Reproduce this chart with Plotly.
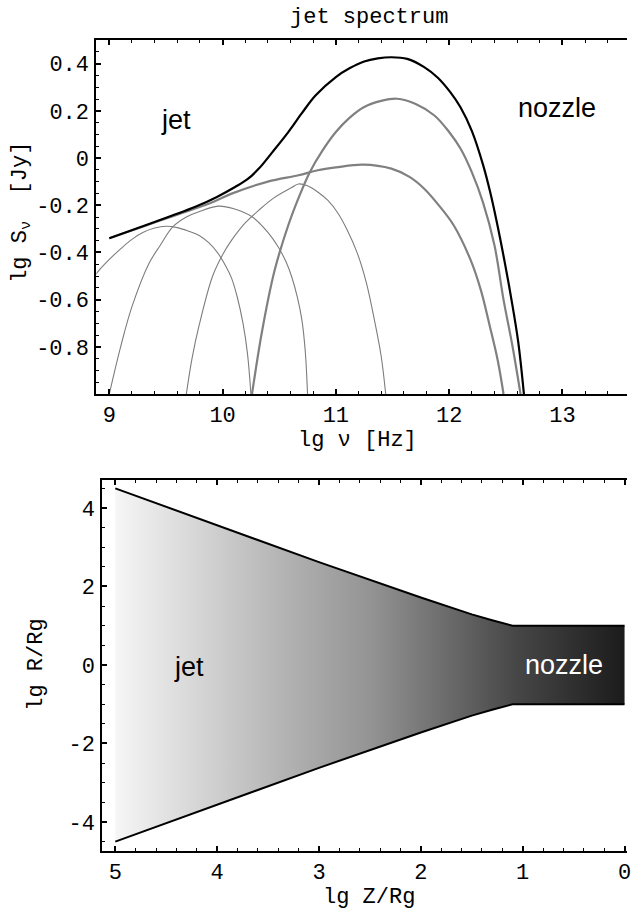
import plotly.graph_objects as go

W, H = 631, 911
MONO = "Courier New, Liberation Mono, monospace"
SANS = "Liberation Sans, Arial, Helvetica, sans-serif"

# ---------------- spectrum (lg nu [Hz] vs lg S_nu [Jy]) ----------------
TOTAL_NU = [9.0, 9.32, 9.55, 9.76, 9.95, 10.11, 10.22, 10.32, 10.44, 10.58, 10.70, 10.82,
            11.0, 11.12, 11.25, 11.37, 11.49, 11.63, 11.78, 11.9, 12.01, 12.1, 12.2, 12.3,
            12.36, 12.42, 12.49, 12.55, 12.61, 12.66]
TOTAL_S = [-0.34, -0.285, -0.245, -0.207, -0.165, -0.123, -0.09, -0.045, 0.025, 0.11, 0.19, 0.265,
           0.343, 0.38, 0.409, 0.422, 0.427, 0.42, 0.385, 0.34, 0.279, 0.215, 0.115, -0.03,
           -0.14, -0.27, -0.44, -0.6, -0.78, -1.0]

NOZZLE_NU = [10.26, 10.35, 10.46, 10.58, 10.67, 10.77, 10.88, 11.0, 11.12, 11.25, 11.4, 11.54,
             11.7, 11.87, 12.0, 12.10, 12.2, 12.30, 12.40, 12.48, 12.56, 12.63]
NOZZLE_S = [-1.0, -0.73, -0.475, -0.285, -0.17, -0.06, 0.03, 0.11, 0.17, 0.216, 0.242, 0.251,
            0.23, 0.18, 0.11, 0.04, -0.06, -0.19, -0.37, -0.6, -0.8, -1.0]

JET_NU = [9.0, 9.3, 9.6, 9.9, 10.08, 10.4, 10.67, 10.84, 11.0, 11.24, 11.49, 11.65, 11.78,
          11.92, 12.04, 12.19, 12.28, 12.36, 12.43, 12.48]
JET_S = [-0.34, -0.29, -0.24, -0.19, -0.151, -0.10, -0.073, -0.052, -0.04, -0.028, -0.045,
         -0.08, -0.13, -0.207, -0.285, -0.433, -0.56, -0.715, -0.86, -1.0]

C1_NU = [8.85, 8.886, 9.0, 9.1, 9.2, 9.3, 9.4, 9.5, 9.6, 9.7, 9.79, 9.88, 9.96, 10.03, 10.08,
         10.13, 10.18, 10.22, 10.25]
C1_S = [-0.52, -0.49, -0.43, -0.385, -0.345, -0.315, -0.297, -0.289, -0.295, -0.31, -0.327,
        -0.36, -0.404, -0.46, -0.51, -0.59, -0.7, -0.83, -1.0]

C2_NU = [9.0, 9.1, 9.2, 9.35, 9.45, 9.56, 9.68, 9.79, 9.96, 10.1, 10.26, 10.4, 10.49, 10.56,
         10.61, 10.66, 10.70, 10.73, 10.75]
C2_S = [-1.0, -0.8, -0.63, -0.447, -0.37, -0.292, -0.25, -0.228, -0.204, -0.215, -0.249,
        -0.315, -0.376, -0.44, -0.503, -0.59, -0.686, -0.82, -1.0]

C3_NU = [9.68, 9.73, 9.79, 9.91, 10.0, 10.08, 10.2, 10.32, 10.45, 10.61, 10.67, 10.75, 10.84,
         10.93, 11.02, 11.1, 11.19, 11.27, 11.34, 11.40, 11.44]
C3_S = [-1.0, -0.85, -0.715, -0.503, -0.41, -0.348, -0.275, -0.221, -0.17, -0.125, -0.11,
        -0.118, -0.144, -0.18, -0.235, -0.305, -0.404, -0.53, -0.686, -0.84, -1.0]

SPEC_XTICKS = [9, 10, 11, 12, 13]
SPEC_XLABELS = ["9", "10", "11", "12", "13"]
SPEC_YTICKS = [-0.8, -0.6, -0.4, -0.2, 0, 0.2, 0.4]
SPEC_YLABELS = ["-0.8", "-0.6", "-0.4", "-0.2", "0", "0.2", "0.4"]

# ---------------- jet geometry (lg Z/Rg vs lg R/Rg) ----------------
NOZ_Z = [5, 4, 3, 2, 1.5, 1.3, 1.1, 0]
NOZ_R_UPPER = [4.5, 3.56, 2.62, 1.72, 1.29, 1.14, 1.0, 1.0]
NOZ_R_LOWER = [-4.5, -3.56, -2.62, -1.72, -1.29, -1.14, -1.0, -1.0]

GEO_XTICKS = [5, 4, 3, 2, 1, 0]
GEO_XLABELS = ["5", "4", "3", "2", "1", "0"]
GEO_YTICKS = [-4, -2, 0, 2, 4]
GEO_YLABELS = ["-4", "-2", "0", "2", "4"]


def px(xp):
    return xp / W


def py(yp):
    return 1 - yp / H


fig = go.Figure()

thin = dict(color="#7d7d7d", width=1.1, shape="spline", smoothing=1.0)
mid = dict(color="#808080", width=2.2, shape="spline", smoothing=1.0)
for nu, s in [(C1_NU, C1_S), (C2_NU, C2_S), (C3_NU, C3_S)]:
    fig.add_trace(go.Scatter(x=nu, y=s, mode="lines", line=thin,
                             xaxis="x", yaxis="y", hoverinfo="skip", showlegend=False))
for nu, s in [(JET_NU, JET_S), (NOZZLE_NU, NOZZLE_S)]:
    fig.add_trace(go.Scatter(x=nu, y=s, mode="lines", line=mid,
                             xaxis="x", yaxis="y", hoverinfo="skip", showlegend=False))
fig.add_trace(go.Scatter(x=TOTAL_NU, y=TOTAL_S, mode="lines",
                         line=dict(color="black", width=2.2, shape="spline", smoothing=1.0),
                         xaxis="x", yaxis="y", hoverinfo="skip", showlegend=False))

# jet body with a left-to-right grey gradient
fig.add_trace(go.Scatter(
    x=NOZ_Z + NOZ_Z[::-1], y=NOZ_R_UPPER + NOZ_R_LOWER[::-1],
    mode="lines", fill="toself", line=dict(width=0, color="rgba(0,0,0,0)"),
    fillgradient=dict(type="horizontal", start=5, stop=0,
                      colorscale=[[0, "#f6f6f6"], [0.36, "#adadad"], [0.5, "#939393"],
                                  [0.78, "#474747"], [1, "#1a1a1a"]]),
    xaxis="x2", yaxis="y2", hoverinfo="skip", showlegend=False))
for r in (NOZ_R_UPPER, NOZ_R_LOWER):
    fig.add_trace(go.Scatter(x=NOZ_Z, y=r, mode="lines", line=dict(color="black", width=2),
                             xaxis="x2", yaxis="y2", hoverinfo="skip", showlegend=False))

# empty traces so the mirrored top axes are drawn
fig.add_trace(go.Scatter(x=[None], y=[None], xaxis="x3", yaxis="y", showlegend=False, hoverinfo="skip"))
fig.add_trace(go.Scatter(x=[None], y=[None], xaxis="x4", yaxis="y2", showlegend=False, hoverinfo="skip"))

tickfont = dict(family=MONO, size=22, color="black")
common = dict(showline=True, linecolor="black", linewidth=2, ticks="inside", ticklen=5,
              tickwidth=1.5, tickcolor="black", showgrid=False, zeroline=False,
              tickfont=tickfont, tickmode="array", ticklabeloverflow="allow")


def minor(step):
    return dict(tickmode="linear", tick0=0, dtick=step, ticks="inside", ticklen=3,
                tickcolor="black", tickwidth=1.2, showgrid=False)


SPEC_XR = [8.886, 13.570]
GEO_XR = [5.127, -0.024]

fig.update_layout(
    width=W, height=H, autosize=False,
    margin=dict(l=0, r=0, t=0, b=0),
    paper_bgcolor="white", plot_bgcolor="white",
    xaxis=dict(domain=[px(97), 1], range=SPEC_XR, anchor="y",
               tickvals=SPEC_XTICKS, ticktext=SPEC_XLABELS, minor=minor(0.2), **common),
    xaxis3=dict(domain=[px(97), 1], range=SPEC_XR, anchor="y", overlaying="x", side="top",
                showticklabels=False, tickvals=SPEC_XTICKS, minor=minor(0.2), **common),
    yaxis=dict(domain=[py(394), py(40)], range=[-1.0, 0.5], anchor="x",
               tickvals=SPEC_YTICKS, ticktext=SPEC_YLABELS, ticklabelstandoff=1,
               minor=minor(0.05), **common),
    xaxis2=dict(domain=[px(103), 1], range=GEO_XR, anchor="y2",
                tickvals=GEO_XTICKS, ticktext=GEO_XLABELS, minor=minor(0.2), **common),
    xaxis4=dict(domain=[px(103), 1], range=GEO_XR, anchor="y2", overlaying="x2", side="top",
                showticklabels=False, tickvals=GEO_XTICKS, minor=minor(0.2), **common),
    yaxis2=dict(domain=[py(851), py(480)], range=[-4.739, 4.713], anchor="x2",
                tickvals=GEO_YTICKS, ticktext=GEO_YLABELS, ticklabelstandoff=1,
                minor=minor(0.5), **common),
)

titlefont = dict(family=MONO, size=22, color="black")
labelfont = dict(family=SANS, size=27, color="black")
ann = [
    dict(text="jet spectrum", x=px(371), y=py(17), font=titlefont),
    dict(text="lg \u03bd [Hz]", x=px(360), y=py(440), font=titlefont),
    dict(text="lg S<sub>\u03bd</sub>  [Jy]", x=px(22), y=py(212), font=titlefont, textangle=-90),
    dict(text="lg Z/Rg", x=px(371), y=py(897), font=titlefont),
    dict(text="lg R/Rg", x=px(36), y=py(665), font=titlefont, textangle=-90),
    dict(text="jet", x=px(177), y=py(120), font=labelfont),
    dict(text="nozzle", x=px(561), y=py(108), font=labelfont),
    dict(text="jet", x=px(190), y=py(667), font=labelfont),
    dict(text="nozzle", x=px(568), y=py(665), font=dict(family=SANS, size=27, color="white")),
]
for a in ann:
    a.update(xref="paper", yref="paper", showarrow=False, xanchor="center", yanchor="middle")
fig.update_layout(annotations=ann)

fig.write_html("out.html")
